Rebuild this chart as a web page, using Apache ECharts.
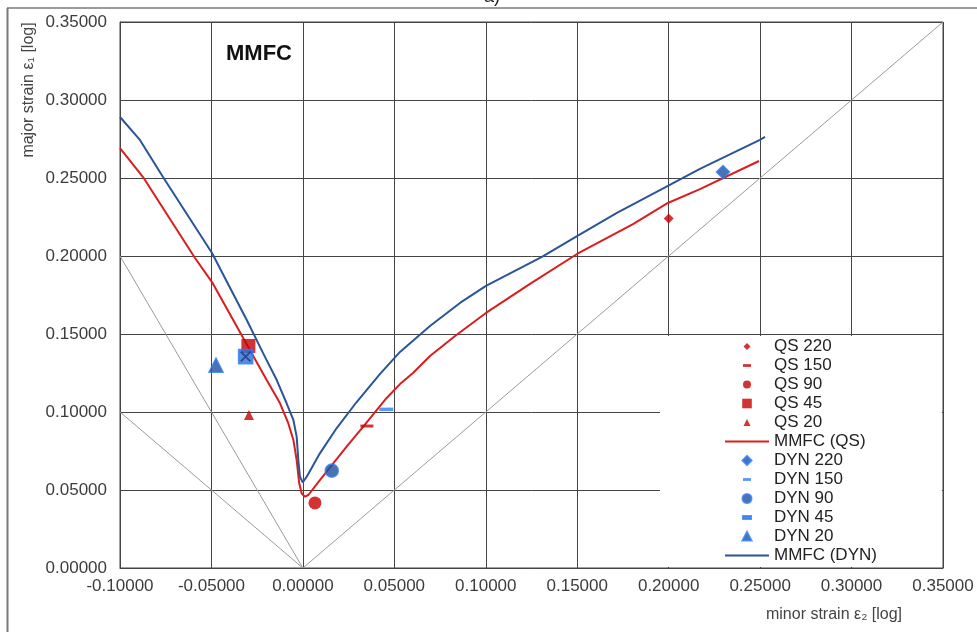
<!DOCTYPE html>
<html>
<head>
<meta charset="utf-8">
<script src="https://cdn.jsdelivr.net/npm/echarts@6/dist/echarts.min.js"></script>
<style>
html,body{margin:0;padding:0;background:#fff;}
#chart{width:977px;height:632px;}
</style>
</head>
<body>
<div id="chart"></div>
<script>
// ---- axis ranges / ticks ----
const xRange = [-0.1, 0.35];
const yRange = [0, 0.35];
const tickStep = 0.05;

// ---- forming limit curves ----
const qsCurveX = [-0.1, -0.0874, -0.0590, -0.0497, -0.0381, -0.0280, -0.0198, -0.0125, -0.0080, -0.0052, -0.0034, -0.0020, -0.0007, 0.0011, 0.0030, 0.0093, 0.0166, 0.0239, 0.0330, 0.0458, 0.0531, 0.0602, 0.0695, 0.0832, 0.1001, 0.1242, 0.1499, 0.1805, 0.1996, 0.2171, 0.2494];
const qsCurveY = [0.2692, 0.2506, 0.1987, 0.1833, 0.1590, 0.1376, 0.1205, 0.1056, 0.0928, 0.0821, 0.0692, 0.0543, 0.0479, 0.0457, 0.0468, 0.0564, 0.0671, 0.0778, 0.0906, 0.1090, 0.1179, 0.1250, 0.1359, 0.1487, 0.1635, 0.1821, 0.2013, 0.2205, 0.2340, 0.2429, 0.2609];

const dynCurveX = [-0.1, -0.0891, -0.0765, -0.0497, -0.0307, -0.0217, -0.0143, -0.0089, -0.0052, -0.0034, -0.0025, -0.0016, -0.0001, 0.0021, 0.0093, 0.0185, 0.0294, 0.0422, 0.0531, 0.0695, 0.0859, 0.1001, 0.1307, 0.1499, 0.1717, 0.1996, 0.2171, 0.2499, 0.2527];
const dynCurveY = [0.2891, 0.2744, 0.2506, 0.2019, 0.1590, 0.1376, 0.1205, 0.1056, 0.0949, 0.0842, 0.0692, 0.0585, 0.0549, 0.0585, 0.0735, 0.0897, 0.1064, 0.1244, 0.1385, 0.1551, 0.1699, 0.1808, 0.1994, 0.2128, 0.2276, 0.2449, 0.2558, 0.2744, 0.2763];

// ---- reference strain paths ----
const uniaxialX = [-0.1, 0];      const uniaxialY = [0.2, 0];
const shearX = [-0.1, 0];         const shearY = [0.1, 0];
const equibiaxialX = [0, 0.35];   const equibiaxialY = [0, 0.35];

// ---- measured points [minor, major] ----
const qs220 = [[0.2, 0.224]];
const qs150 = [[0.035, 0.091]];
const qs90  = [[0.0066, 0.0417]];
const qs45  = [[-0.0298, 0.1423]];
const qs20  = [[-0.0295, 0.098]];
const dyn220 = [[0.2297, 0.2538]];
const dyn150 = [[0.0456, 0.1017]];
const dyn90  = [[0.0158, 0.0624]];
const dyn45  = [[-0.0313, 0.1355]];
const dyn20  = [[-0.0475, 0.130]];

const legendNames = ['QS 220','QS 150','QS 90','QS 45','QS 20','MMFC (QS)','DYN 220','DYN 150','DYN 90','DYN 45','DYN 20','MMFC (DYN)'];

const zip = (xs, ys) => xs.map((x, i) => [x, ys[i]]);
const FONT = "'Liberation Sans', Arial, sans-serif";
const RED_M = '#c80000', RED_L = '#d81e1e';
const BLUE_F = '#1f4f9c', BLUE_B = '#2f7df6', BLUE_L = '#2a5596';

const ANCH = 'M0,0M10,10';
const icons = {
  dSmall: 'path://' + ANCH + 'M5,1.5L8.5,5L5,8.5L1.5,5Z',
  dBig: 'path://' + ANCH + 'M5,0.5L9.5,5L5,9.5L0.5,5Z',
  dash: 'path://' + ANCH + 'M1,3.6h8v2.8h-8Z',
  cSmall: 'path://' + ANCH + 'M1,5a4,4 0 1,0 8,0a4,4 0 1,0 -8,0Z',
  cBig: 'path://' + ANCH + 'M0.5,5a4.5,4.5 0 1,0 9,0a4.5,4.5 0 1,0 -9,0Z',
  sq: 'path://' + ANCH + 'M0.2,0.2h9.6v9.6h-9.6Z',
  tSmall: 'path://' + ANCH + 'M5,1.5L8.5,8.5L1.5,8.5Z',
  tBig: 'path://' + ANCH + 'M5,0.5L9.5,9L0.5,9Z',
  line: 'path://M0,0h44v2.2h-44Z'
};
const legendIcon = {
  'QS 220': icons.dSmall, 'QS 150': icons.dash, 'QS 90': icons.cSmall, 'QS 45': icons.sq, 'QS 20': icons.tSmall,
  'MMFC (QS)': icons.line,
  'DYN 220': icons.dBig, 'DYN 150': icons.dash, 'DYN 90': icons.cBig, 'DYN 45': icons.dash, 'DYN 20': icons.tBig,
  'MMFC (DYN)': icons.line
};

const refLine = (name, xs, ys) => ({
  name, type: 'line', data: zip(xs, ys), symbol: 'none', silent: true, z: 1,
  lineStyle: { color: '#9a9a9a', width: 1 }, animation: false
});
const pts = (name, data, symbol, size, color, border) => ({
  name, type: 'scatter', data, symbol, symbolSize: size, z: 5,
  itemStyle: border ? { color, borderColor: border, borderWidth: 1.6 } : { color }
});

const chart = echarts.init(document.getElementById('chart'), null, { renderer: 'canvas' });
chart.setOption({
  animation: false,
  backgroundColor: '#fff',
  grid: { left: 120, right: 34, top: 22, bottom: 64, show: true, borderColor: '#444', borderWidth: 1 },
  xAxis: {
    type: 'value', min: xRange[0], max: xRange[1], interval: tickStep,
    axisLine: { show: true, lineStyle: { color: '#444' } },
    axisTick: { show: false },
    splitLine: { show: true, lineStyle: { color: '#444', width: 1 } },
    axisLabel: { formatter: v => v.toFixed(5), fontSize: 17, color: '#3c3c3c', fontFamily: FONT, margin: 10 }
  },
  yAxis: {
    type: 'value', min: yRange[0], max: yRange[1], interval: tickStep,
    axisLine: { show: true, onZero: false, lineStyle: { color: '#444' } },
    axisTick: { show: false },
    splitLine: { show: true, lineStyle: { color: '#444', width: 1 } },
    axisLabel: { formatter: v => v.toFixed(5), fontSize: 17, color: '#3c3c3c', fontFamily: FONT, margin: 13 }
  },
  legend: {
    orient: 'vertical', left: 660, top: 336,
    padding: [2, 65, 3, 65],
    itemWidth: 44, itemHeight: 10, itemGap: 2,
    backgroundColor: '#fff', borderWidth: 0,
    textStyle: { fontSize: 17, lineHeight: 17, color: '#222', fontFamily: FONT },
    data: legendNames.map(n => ({ name: n, icon: legendIcon[n] }))
  },
  graphic: [
    { type: 'line', shape: { x1: 7.5, y1: 8, x2: 7.5, y2: 632 }, style: { stroke: '#7a7a7a', lineWidth: 2 } },
    { type: 'line', shape: { x1: 7, y1: 8, x2: 977, y2: 8 }, style: { stroke: '#7a7a7a', lineWidth: 1.5 } },
    { type: 'text', x: 484, y: 6, style: { text: 'a)', fontSize: 18, fontFamily: FONT, fill: '#222', align: 'left', verticalAlign: 'bottom', textAlign: 'left', textVerticalAlign: 'bottom' } },
    { type: 'text', x: 226, y: 54, z: 10, style: { text: 'MMFC', fontSize: 22, fontWeight: 'bold', fontFamily: FONT, fill: '#111', align: 'left', verticalAlign: 'middle', textAlign: 'left', textVerticalAlign: 'middle' } },
    { type: 'text', x: 29, y: 90, rotation: Math.PI / 2, style: { text: 'major strain ε₁ [log]', fontSize: 16, fontFamily: FONT, fill: '#444', align: 'center', verticalAlign: 'middle', textAlign: 'center', textVerticalAlign: 'middle' } },
    { type: 'text', x: 834, y: 615, style: { text: 'minor strain ε₂ [log]', fontSize: 16, fontFamily: FONT, fill: '#444', align: 'center', verticalAlign: 'middle', textAlign: 'center', textVerticalAlign: 'middle' } }
  ],
  series: [
    refLine('ref uniaxial', uniaxialX, uniaxialY),
    refLine('ref shear', shearX, shearY),
    refLine('ref equibiaxial', equibiaxialX, equibiaxialY),
    { name: 'MMFC (QS)', type: 'line', data: zip(qsCurveX, qsCurveY), symbol: 'none', showSymbol: false, z: 3,
      lineStyle: { color: RED_L, width: 2 }, itemStyle: { color: RED_L } },
    { name: 'MMFC (DYN)', type: 'line', data: zip(dynCurveX, dynCurveY), symbol: 'none', showSymbol: false, z: 3,
      lineStyle: { color: BLUE_L, width: 2 }, itemStyle: { color: BLUE_L } },
    pts('QS 220', qs220, 'diamond', 10, RED_M),
    pts('QS 150', qs150, 'rect', [13, 3], RED_M),
    pts('QS 90', qs90, 'circle', 13, RED_M),
    pts('QS 45', qs45, 'rect', 14, RED_M),
    pts('QS 20', qs20, 'triangle', 10, RED_M),
    pts('DYN 220', dyn220, 'diamond', 13, BLUE_F, BLUE_B),
    pts('DYN 150', dyn150, 'rect', [14, 3.5], BLUE_B),
    pts('DYN 90', dyn90, 'circle', 13, BLUE_F, BLUE_B),
    pts('DYN 45', dyn45, 'rect', 14, '#2a6fdb', BLUE_B),
    { name: 'DYN 45 cross', type: 'scatter', data: dyn45, z: 6, symbolSize: 11,
      symbol: 'path://M1,2L2,1L9,8L8,9Z M8,1L9,2L2,9L1,8Z', itemStyle: { color: '#1b3f7e' } },
    pts('DYN 20', dyn20, 'triangle', 14, BLUE_F, BLUE_B)
  ]
});
</script>
</body>
</html>
